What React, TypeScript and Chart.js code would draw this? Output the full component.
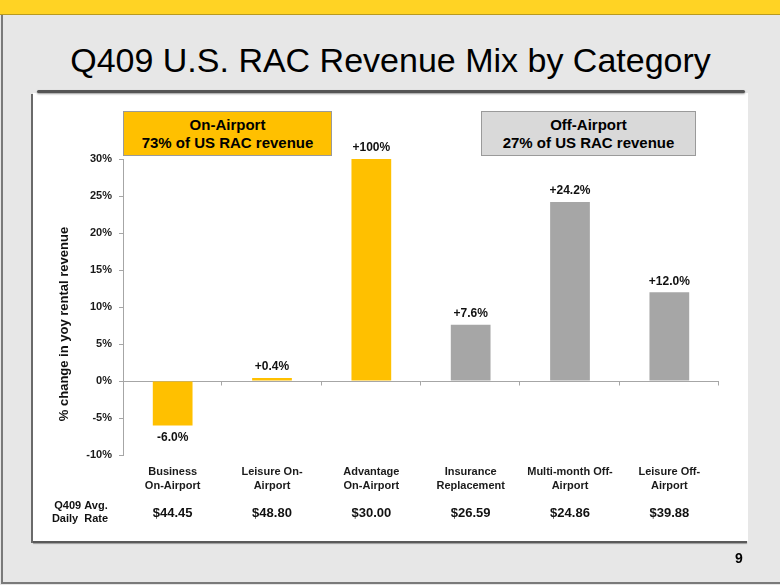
import React, { useEffect, useRef } from 'react';
import { Chart, registerables } from 'chart.js';

Chart.register(...registerables);

const FONT = '"Liberation Sans", Arial, Helvetica, sans-serif';

// ---- data ----
const categories: string[][] = [
  ['Business', 'On-Airport'],
  ['Leisure On-', 'Airport'],
  ['Advantage', 'On-Airport'],
  ['Insurance', 'Replacement'],
  ['Multi-month Off-', 'Airport'],
  ['Leisure Off-', 'Airport'],
];
const changePct: number[] = [-6.0, 0.4, 100, 7.6, 24.2, 12.0];
const valueLabels: string[] = ['-6.0%', '+0.4%', '+100%', '+7.6%', '+24.2%', '+12.0%'];
const segment: string[] = ['on', 'on', 'on', 'off', 'off', 'off'];
const dailyRates: string[] = ['$44.45', '$48.80', '$30.00', '$26.59', '$24.86', '$39.88'];
const yMin = -10;
const yMax = 30;
const yStep = 5;
const segmentColors: Record<string, string> = { on: '#FFC000', off: '#A6A6A6' };

const overlayPlugin = {
  id: 'overlay',
  afterDatasetsDraw(chart: any) {
    const ctx = chart.ctx as CanvasRenderingContext2D;
    const area = chart.chartArea;
    const ys = chart.scales.y;
    const xs = chart.scales.x;
    const meta = chart.getDatasetMeta(0);
    ctx.save();

    // small tick marks below the zero line between categories
    const y0 = Math.round(ys.getPixelForValue(0)) + 0.5;
    ctx.strokeStyle = '#a6a6a6';
    ctx.lineWidth = 1;
    const n = categories.length;
    for (let i = 1; i <= n; i++) {
      const x = Math.round(area.left + ((area.right - area.left) * i) / n) - 0.5;
      ctx.beginPath();
      ctx.moveTo(x, y0);
      ctx.lineTo(x, y0 + 4);
      ctx.stroke();
    }

    // value labels
    ctx.font = `bold 12px ${FONT}`;
    ctx.fillStyle = '#111';
    ctx.textAlign = 'center';
    ctx.textBaseline = 'middle';
    meta.data.forEach((bar: any, i: number) => {
      const p = bar.getProps(['x', 'y'], true);
      if (changePct[i] >= 0) {
        const top = Math.max(p.y, area.top);
        ctx.fillText(valueLabels[i], p.x, top - 11);
      } else {
        const bottom = Math.min(p.y, area.bottom);
        ctx.fillText(valueLabels[i], p.x, bottom + 12);
      }
    });

    // daily rate row
    const rateY = area.bottom + 58;
    ctx.font = `bold 13px ${FONT}`;
    dailyRates.forEach((r, i) => {
      ctx.fillText(r, xs.getPixelForValue(i), rateY);
    });
    ctx.font = `bold 11px ${FONT}`;
    ctx.fillText('Q409 Avg.', 81, rateY - 7);
    ctx.fillText('Daily  Rate', 80, rateY + 6);

    // y axis title
    ctx.translate(64, 324);
    ctx.rotate(-Math.PI / 2);
    ctx.font = `bold 13px ${FONT}`;
    ctx.fillText('% change in yoy rental revenue', 0, 0);
    ctx.restore();
  },
};

export default function App() {
  const canvasRef = useRef<HTMLCanvasElement | null>(null);

  useEffect(() => {
    if (!canvasRef.current) return;
    Chart.defaults.font.family = FONT;
    const chart = new Chart(canvasRef.current, {
      type: 'bar',
      data: {
        labels: categories,
        datasets: [
          {
            data: changePct,
            backgroundColor: segment.map((s) => segmentColors[s]),
            borderWidth: 0,
            barPercentage: 0.4,
            categoryPercentage: 1,
            clip: 0,
          },
        ],
      },
      options: {
        responsive: false,
        animation: false,
        devicePixelRatio: 1,
        layout: { padding: { left: 0, top: 159, right: 61, bottom: 90 } },
        plugins: {
          legend: { display: false },
          tooltip: { enabled: false },
          title: { display: false },
        },
        scales: {
          x: {
            grid: { display: false, drawTicks: false },
            border: { display: false },
            ticks: {
              autoSkip: false,
              maxRotation: 0,
              minRotation: 0,
              padding: 10,
              color: '#1a1a1a',
              font: { size: 11, weight: 'bold', lineHeight: 1.27 },
            },
            afterFit: (s: any) => {
              s.height = 40;
            },
          },
          y: {
            min: yMin,
            max: yMax,
            ticks: {
              stepSize: yStep,
              padding: 7,
              color: '#1a1a1a',
              font: { size: 11, weight: 'bold' },
              callback: (v: any) => `${v}%`,
            },
            grid: {
              drawOnChartArea: true,
              tickLength: 4,
              tickColor: '#a6a6a6',
              color: (c: any) => (c.tick && c.tick.value === 0 ? '#a6a6a6' : 'rgba(0,0,0,0)'),
            },
            border: { display: true, color: '#a6a6a6', width: 1 },
            afterFit: (s: any) => {
              s.width = 123;
            },
          },
        },
      },
      plugins: [overlayPlugin],
    });
    return () => chart.destroy();
  }, []);

  const abs = (o: React.CSSProperties): React.CSSProperties => ({ position: 'absolute', ...o });

  return (
    <div style={abs({ left: 0, top: 0, width: 780, height: 585, background: '#e7e7e7', overflow: 'hidden', fontFamily: FONT })}>
      {/* top yellow band */}
      <div style={abs({ left: 0, top: 0, width: 780, height: 14, background: '#FFD324', borderBottom: '1px solid #b89a20' })} />
      {/* slide left / bottom border */}
      <div style={abs({ left: 1, top: 15, width: 2, height: 569, background: '#7a7a7a' })} />
      <div style={abs({ left: 1, top: 582, width: 779, height: 2, background: '#7a7a7a' })} />
      {/* title */}
      <div style={abs({ left: 0, top: 38, width: 781, textAlign: 'center', fontSize: 34, lineHeight: '44px', color: '#000' })}>
        Q409 U.S. RAC Revenue Mix by Category
      </div>
      {/* white panel */}
      <div style={abs({ left: 33, top: 93, width: 715, height: 448, background: '#fff' })} />
      <div style={abs({ left: 31, top: 94, width: 2, height: 449, background: '#6a6a6a' })} />
      <div style={abs({ left: 33, top: 541, width: 714, height: 2, background: '#5a5a5a', boxShadow: '0 1px 1px #999' })} />
      <div style={abs({ left: 37, top: 90, width: 708, height: 3, background: '#555', borderRadius: 2, boxShadow: '0 1px 2px #999' })} />
      {/* legend boxes */}
      <div style={abs({ left: 123, top: 111, width: 207, height: 43, background: '#FFC000', border: '1px solid #9a9a9a', boxSizing: 'content-box', display: 'flex', alignItems: 'center', justifyContent: 'center', textAlign: 'center', fontWeight: 'bold', fontSize: 15, lineHeight: '17.5px', color: '#000' })}>
        <div>On-Airport<br />73% of US RAC revenue</div>
      </div>
      <div style={abs({ left: 481, top: 111, width: 213, height: 43, background: '#d9d9d9', border: '1px solid #9a9a9a', boxSizing: 'content-box', display: 'flex', alignItems: 'center', justifyContent: 'center', textAlign: 'center', fontWeight: 'bold', fontSize: 15, lineHeight: '17.5px', color: '#000' })}>
        <div>Off-Airport<br />27% of US RAC revenue</div>
      </div>
      {/* chart */}
      <canvas ref={canvasRef} width={780} height={585} style={abs({ left: 0, top: 0, width: 780, height: 585 })} />
      {/* page number */}
      <div style={abs({ left: 729, top: 549, width: 20, textAlign: 'center', fontWeight: 'bold', fontSize: 14, lineHeight: '18px', color: '#000' })}>9</div>
    </div>
  );
}
